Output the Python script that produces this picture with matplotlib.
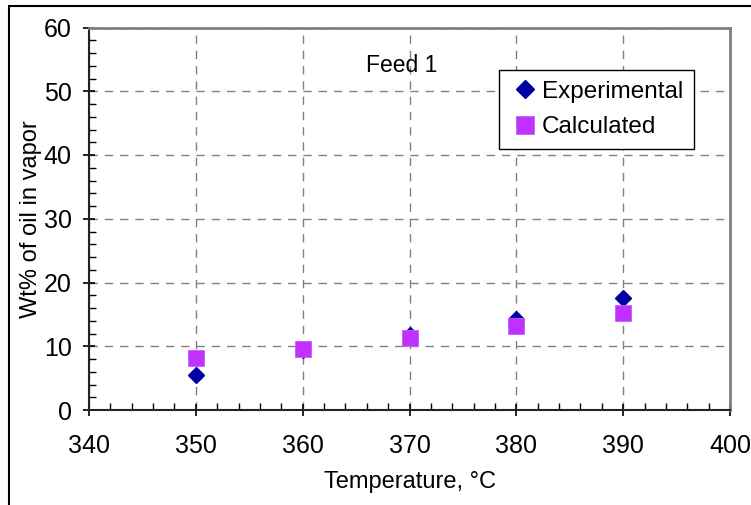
import matplotlib
matplotlib.use("Agg")
import matplotlib.pyplot as plt
from matplotlib.patches import Rectangle
from matplotlib.ticker import MultipleLocator

plt.rcParams['font.family'] = ['Liberation Sans', 'DejaVu Sans']

temps = [350, 360, 370, 380, 390]
experimental = [5.5, 9.4, 11.7, 14.3, 17.6]
calculated = [8.2, 9.6, 11.3, 13.2, 15.2]

fig = plt.figure(figsize=(7.51, 5.05), dpi=100)
# outer chart frame (cut off at right and bottom)
fig.patches.append(Rectangle((9/751, -0.1), 1.2, 1 - 6/505 + 0.1, transform=fig.transFigure,
                             fill=False, edgecolor='black', linewidth=1.5))
ax = fig.add_axes([89/751, 1 - 410/505, (730 - 89)/751, (410 - 27.5)/505])

ax.plot(temps, experimental, linestyle='none', marker='D', markersize=8.5,
        color='#0000A0', label='Experimental', zorder=3)
ax.plot(temps, calculated, linestyle='none', marker='s', markersize=11.5,
        color='#C030FF', markeredgecolor='#C85CFF', markeredgewidth=0.6,
        label='Calculated', zorder=4)

ax.set_xlim(340, 400)
ax.set_ylim(0, 60)
ax.xaxis.set_major_locator(MultipleLocator(10))
ax.xaxis.set_minor_locator(MultipleLocator(2))
ax.yaxis.set_major_locator(MultipleLocator(10))
ax.yaxis.set_minor_locator(MultipleLocator(2))
ax.tick_params(which='major', direction='inout', length=9, width=1.2, labelsize=18)
ax.tick_params(axis='x', which='major', pad=13)
ax.tick_params(axis='y', which='major', pad=8)
ax.tick_params(which='minor', direction='in', length=5, width=1)
ax.grid(True, which='major', linestyle=(0, (6, 5)), color='#808080', linewidth=1)

for s in ['left', 'bottom']:
    ax.spines[s].set_color('#222222')
    ax.spines[s].set_linewidth(1.5)
for s in ['top', 'right']:
    ax.spines[s].set_color('#808080')
    ax.spines[s].set_linewidth(2)

ax.set_xlabel('Temperature, °C', fontsize=17, labelpad=9)
ax.set_ylabel('Wt% of oil in vapor', fontsize=17, labelpad=1)
ax.text(369.3, 54, 'Feed 1', fontsize=16.5, ha='center', va='center')

leg = ax.legend(loc='upper left', bbox_to_anchor=((499 - 89)/641, (410 - 70)/382.5),
                borderaxespad=0, fontsize=17.5, frameon=True, fancybox=False, framealpha=1,
                edgecolor='black', handlelength=1.2, handletextpad=0.1,
                labelspacing=0.55, borderpad=0.45, markerscale=1.1)
leg.get_frame().set_linewidth(1)

fig.savefig('out.png', dpi=100)
